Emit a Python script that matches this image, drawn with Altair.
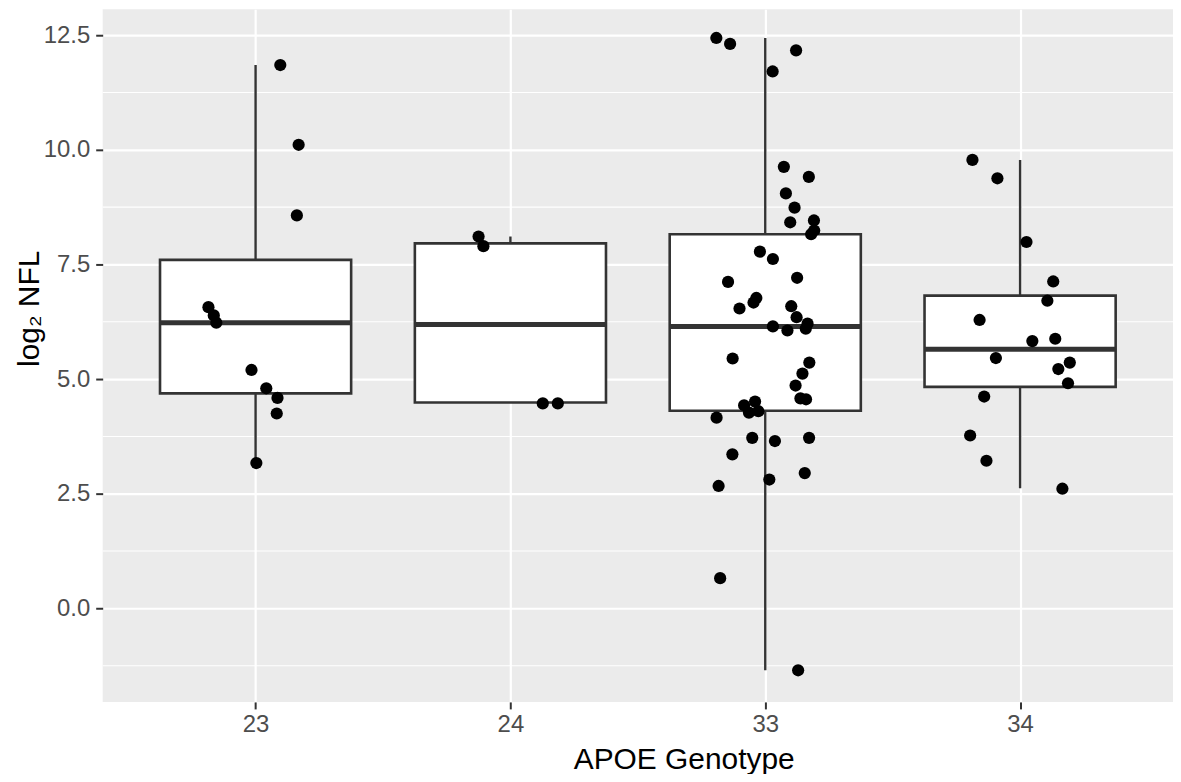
import altair as alt
import pandas as pd

# ---- data ----
genotypes = ["23", "24", "33", "34"]

# box statistics per genotype
q1 = [4.69, 4.49, 4.31, 4.83]
median = [6.23, 6.19, 6.15, 5.65]
q3 = [7.60, 7.96, 8.16, 6.82]
whisk_lo = [3.17, 4.49, -1.35, 2.62]
whisk_hi = [11.85, 8.11, 12.44, 9.78]

# jittered observations (value, horizontal jitter offset in category units)
nfl_23 = [11.85, 10.11, 8.57, 6.57, 6.39, 6.23, 5.20, 4.80, 4.59, 4.25, 3.17]
jit_23 = [0.097, 0.169, 0.162, -0.185, -0.164, -0.154, -0.016, 0.042, 0.086, 0.083, 0.003]

nfl_24 = [8.11, 7.90, 4.47, 4.47]
jit_24 = [-0.125, -0.106, 0.127, 0.186]

nfl_33 = [12.44, 12.31, 12.17, 11.71, 9.63, 9.41, 9.05, 8.74, 8.42, 8.46,
          8.24, 8.16, 7.78, 7.62, 7.21, 7.12, 6.77, 6.67, 6.54, 6.59,
          6.35, 6.15, 6.06, 6.21, 6.10, 5.45, 5.36, 5.12, 4.86, 4.58,
          4.56, 4.43, 4.51, 4.27, 4.30, 4.16, 3.72, 3.65, 3.72, 3.36,
          2.95, 2.81, 2.67, 0.66, -1.35]
jit_33 = [-0.192, -0.138, 0.121, 0.029, 0.073, 0.171, 0.081, 0.115, 0.098, 0.191,
          0.192, 0.180, -0.021, 0.030, 0.125, -0.146, -0.035, -0.046, -0.101, 0.102,
          0.123, 0.030, 0.087, 0.166, 0.159, -0.128, 0.173, 0.146, 0.119, 0.138,
          0.160, -0.083, -0.040, -0.064, -0.027, -0.191, -0.051, 0.038, 0.172, -0.129,
          0.155, 0.016, -0.183, -0.177, 0.129]

nfl_34 = [9.78, 9.38, 7.99, 7.13, 6.71, 6.29, 5.83, 5.88, 5.46, 5.36,
          5.22, 4.91, 4.62, 3.77, 3.22, 2.61]
jit_34 = [-0.187, -0.089, 0.025, 0.130, 0.107, -0.159, 0.048, 0.138, -0.095, 0.195,
          0.150, 0.188, -0.141, -0.196, -0.132, 0.166]

y_ticks = [0.0, 2.5, 5.0, 7.5, 10.0, 12.5]
y_minor = [-1.25, 1.25, 3.75, 6.25, 8.75, 11.25]

# ---- tables ----
HALF = 0.375
box_df = pd.DataFrame({
    "pos": [i + 1 for i in range(len(genotypes))],
    "genotype": genotypes,
    "q1": q1, "median": median, "q3": q3, "lo": whisk_lo, "hi": whisk_hi,
})
box_df["left"] = box_df["pos"] - HALF
box_df["right"] = box_df["pos"] + HALF

rows = []
for i, (vals, jits) in enumerate([(nfl_23, jit_23), (nfl_24, jit_24),
                                  (nfl_33, jit_33), (nfl_34, jit_34)]):
    for v, j in zip(vals, jits):
        rows.append({"genotype": genotypes[i], "x": i + 1 + j, "nfl": v})
pts_df = pd.DataFrame(rows)
minor_df = pd.DataFrame({"v": y_minor})

label_expr = "[" + ",".join("'" + g + "'" for g in genotypes) + "][round(datum.value) - 1]"

x_scale = alt.Scale(domain=[0.4, 4.6], nice=False, zero=False)
y_scale = alt.Scale(domain=[-2.04, 13.065], nice=False, zero=False)

x_axis = alt.Axis(values=[1, 2, 3, 4], labelExpr=label_expr, title="APOE Genotype",
                  grid=True, gridColor="white", gridWidth=2.2, domain=False,
                  tickColor="#333333", tickSize=7, tickWidth=2,
                  labelColor="#4D4D4D", labelFontSize=24, labelPadding=4,
                  titleFontSize=30, titleColor="black", titleFontWeight="normal",
                  titlePadding=8, titleX=583)
y_axis = alt.Axis(values=y_ticks, format=".1f", title="log₂ NFL",
                  grid=True, gridColor="white", gridWidth=2.2, domain=False,
                  tickColor="#333333", tickSize=7, tickWidth=2,
                  labelColor="#4D4D4D", labelFontSize=24, labelPadding=6,
                  titleFontSize=30, titleColor="black", titleFontWeight="normal",
                  titleX=-58, titleY=300)

minor = alt.Chart(minor_df).mark_rule(color="white", strokeWidth=1.1).encode(
    x=alt.value(0), x2=alt.value(1074),
    y=alt.Y("v:Q", scale=y_scale, axis=y_axis),
)

base = alt.Chart(box_df)
whisk = base.mark_rule(color="#333333", strokeWidth=2.4).encode(
    x=alt.X("pos:Q", scale=x_scale, axis=x_axis),
    y=alt.Y("lo:Q", scale=y_scale),
    y2="hi:Q",
)
box = base.mark_rect(fill="white", stroke="#333333", strokeWidth=2.6).encode(
    x=alt.X("left:Q", scale=x_scale),
    x2="right:Q",
    y=alt.Y("q1:Q", scale=y_scale),
    y2="q3:Q",
)
med = base.mark_rule(color="#333333", strokeWidth=5).encode(
    x=alt.X("left:Q", scale=x_scale),
    x2="right:Q",
    y=alt.Y("median:Q", scale=y_scale),
)
pts = alt.Chart(pts_df).mark_circle(color="black", opacity=1, size=150).encode(
    x=alt.X("x:Q", scale=x_scale),
    y=alt.Y("nfl:Q", scale=y_scale),
)

chart = alt.layer(minor, whisk, box, med, pts).properties(
    width=1074, height=695,
    autosize=alt.AutoSizeParams(type="none"),
    padding={"left": 95, "top": 0, "right": 0, "bottom": 71},
).configure(
    font="Liberation Sans", background="white"
).configure_view(
    fill="#EBEBEB", strokeWidth=0
)

chart.save("out.html", embed_options={"renderer": "svg", "actions": False})
